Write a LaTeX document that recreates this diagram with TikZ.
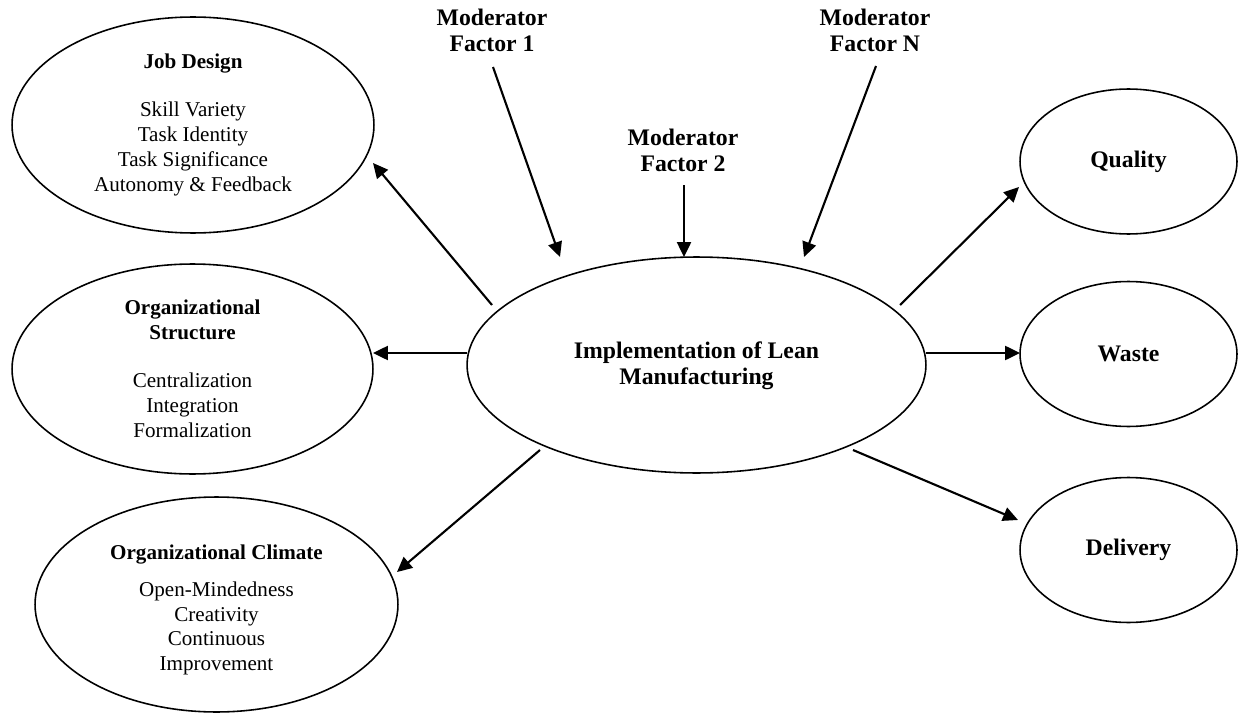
\documentclass[tikz,border=0pt]{standalone}
\usepackage{fontspec}
\setmainfont{Liberation Serif}
\usetikzlibrary{shapes.geometric,arrows.meta}
\tikzset{
  bubble/.style={ellipse, draw, line width=0.9pt, inner sep=0pt},
  plain/.style={font=\fontsize{12}{14.2}\selectfont, align=center, inner sep=0pt},
  bold/.style={font=\fontsize{13.5}{14.8}\selectfont\bfseries, align=center, inner sep=0pt},
  arr/.style={line width=1.2pt, -{Triangle[length=8.5pt,width=8pt]}}
}
\begin{document}
\begin{tikzpicture}[x=0.02cm, y=-0.02cm]
\useasboundingbox (0,0) rectangle (1241,713);
% ellipses
\node[bubble, minimum width=7.24cm, minimum height=4.32cm] (jd) at (193,125) {};
\node[plain] (jdtxt) at (jd) {\textbf{Job Design}\\[13pt]Skill Variety\\Task Identity\\Task Significance\\Autonomy \& Feedback};
\node[bubble, minimum width=7.22cm, minimum height=4.2cm] (os) at (192.5,369) {};
\node[plain] (ostxt) at (os) {\textbf{Organizational}\\\textbf{Structure}\\[13pt]Centralization\\Integration\\Formalization};
\node[bubble, minimum width=7.26cm, minimum height=4.3cm] (oc) at (216.5,604.5) {};
\node[plain] (octxt) at (216.5,610) {\textbf{Organizational Climate}\\[6.8pt]Open-Mindedness\\Creativity\\Continuous\\Improvement};
\node[bubble, minimum width=9.18cm, minimum height=4.32cm] (c) at (696.5,365) {};
\node[bold] (ctxt) at (696.5,366) {Implementation of Lean\\Manufacturing};
\node[bubble, minimum width=4.34cm, minimum height=2.9cm, bold] (q) at (1128.5,161.5) {Quality};
\node[bubble, minimum width=4.34cm, minimum height=2.9cm, bold] (w) at (1128.5,354) {Waste};
\node[bubble, minimum width=4.34cm, minimum height=2.9cm, bold] (d) at (1128.5,550) {Delivery};
% moderators
\node[bold] (m1) at (492,30) {Moderator\\Factor 1};
\node[bold] (m2) at (683,150) {Moderator\\Factor 2};
\node[bold] (mn) at (875,30) {Moderator\\Factor N};
% connector ends
\coordinate (m1s) at (493,67);  \coordinate (m1e) at (560,257);
\coordinate (m2s) at (684,185); \coordinate (m2e) at (684,257);
\coordinate (mns) at (876,66);  \coordinate (mne) at (804,257);
\coordinate (cjd) at (492,305); \coordinate (jde) at (373,163);
\coordinate (cos) at (467,353); \coordinate (ose) at (373,353);
\coordinate (coc) at (540,450); \coordinate (oce) at (397,572);
\coordinate (cq) at (900,305);  \coordinate (qe) at (1019,187);
\coordinate (cw) at (926,353);  \coordinate (we) at (1020,353);
\coordinate (cd) at (853,450);  \coordinate (de) at (1018,520);
% arrows
\draw[arr] (m1s) -- (m1e);
\draw[arr] (m2s) -- (m2e);
\draw[arr] (mns) -- (mne);
\draw[arr] (cjd) -- (jde);
\draw[arr] (cos) -- (ose);
\draw[arr] (coc) -- (oce);
\draw[arr] (cq) -- (qe);
\draw[arr] (cw) -- (we);
\draw[arr] (cd) -- (de);
\end{tikzpicture}
\end{document}
